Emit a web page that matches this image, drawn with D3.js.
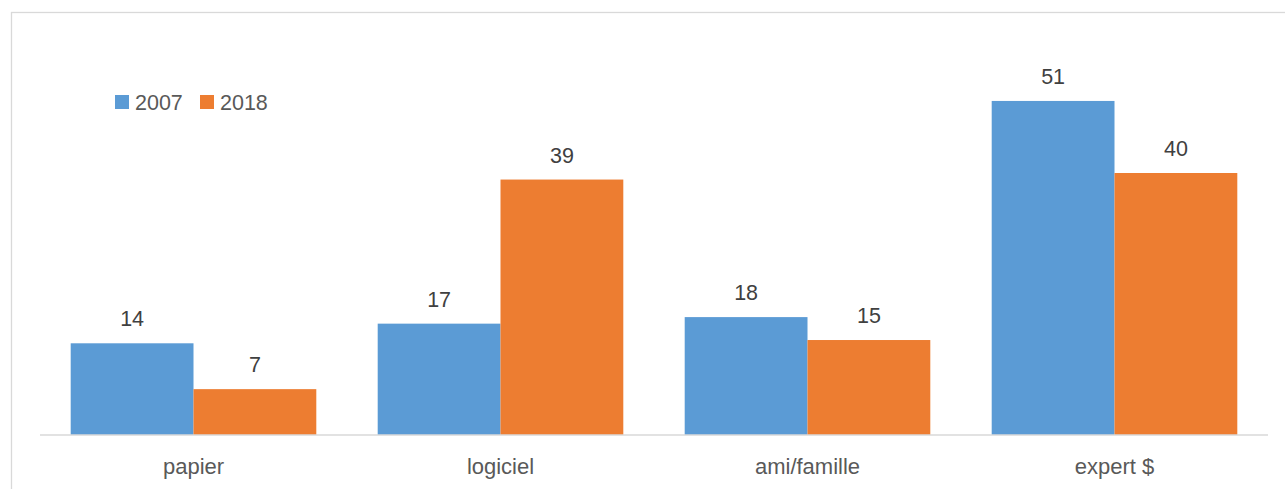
<!DOCTYPE html>
<html>
<head>
<meta charset="utf-8">
<script src="https://cdn.jsdelivr.net/npm/d3@7"></script>
<style>
  html, body { margin: 0; padding: 0; background: #fff; }
  svg { display: block; }
  text { font-family: "Liberation Sans", Arial, sans-serif; }
</style>
</head>
<body>
<div id="chart"></div>
<script>
const categories = ["papier", "logiciel", "ami/famille", "expert $"];
const seriesNames = ["2007", "2018"];
const values2007 = [14, 17, 18, 51];
const values2018 = [7, 39, 14.5, 40];
const seriesColors = ["#5b9bd5", "#ed7d31"];

const W = 1285, H = 489;
const svg = d3.select("#chart").append("svg").attr("width", W).attr("height", H);

// frame
svg.append("rect")
  .attr("x", 11.5).attr("y", 12.5)
  .attr("width", W + 10).attr("height", H + 10)
  .attr("fill", "none").attr("stroke", "#d9d9d9").attr("stroke-width", 1.3);

const left = 40, right = 1268, baseY = 435, topY = 42;

const x0 = d3.scaleBand().domain(categories).range([left, right])
  .paddingInner(0.2).paddingOuter(0.1);
const x1 = d3.scaleBand().domain(seriesNames).range([0, x0.bandwidth()]).padding(0);
const y = d3.scaleLinear().domain([0, 60]).range([baseY, topY]);

const rows = categories.map((c, i) => ({
  cat: c,
  vals: [
    { s: seriesNames[0], v: values2007[i], color: seriesColors[0] },
    { s: seriesNames[1], v: values2018[i], color: seriesColors[1] }
  ]
}));

const fmt = d3.format(".0f");

const g = svg.append("g");
const groups = g.selectAll("g.cat").data(rows).join("g")
  .attr("class", "cat")
  .attr("transform", d => `translate(${x0(d.cat)},0)`);

groups.selectAll("rect").data(d => d.vals).join("rect")
  .attr("x", d => x1(d.s))
  .attr("y", d => y(d.v))
  .attr("width", x1.bandwidth())
  .attr("height", d => y(0) - y(d.v))
  .attr("fill", d => d.color);

groups.selectAll("text.val").data(d => d.vals).join("text")
  .attr("class", "val")
  .attr("x", d => x1(d.s) + x1.bandwidth() / 2)
  .attr("y", d => y(d.v) - 17)
  .attr("text-anchor", "middle")
  .attr("font-size", 21.5)
  .attr("fill", "#404040")
  .text(d => fmt(d.v));

// x axis
const xAxis = d3.axisBottom(x0).tickSize(0).tickPadding(23);
const ax = svg.append("g").attr("transform", `translate(0,${baseY})`).call(xAxis);
ax.select(".domain").attr("stroke", "#d9d9d9").attr("stroke-width", 1.3)
  .attr("d", `M${left},0H${right}`);
ax.selectAll(".tick text")
  .attr("font-size", 22)
  .attr("fill", "#595959")
  .attr("font-family", "Liberation Sans, Arial, sans-serif")
  .attr("dy", "0.72em");

// legend
const legendX = [115, 200];
const leg = svg.append("g");
seriesNames.forEach((s, i) => {
  leg.append("rect")
    .attr("x", legendX[i]).attr("y", 95)
    .attr("width", 14).attr("height", 14)
    .attr("fill", seriesColors[i]);
  leg.append("text")
    .attr("x", legendX[i] + 20).attr("y", 110)
    .attr("font-size", 21.5)
    .attr("fill", "#595959")
    .text(s);
});
</script>
</body>
</html>
